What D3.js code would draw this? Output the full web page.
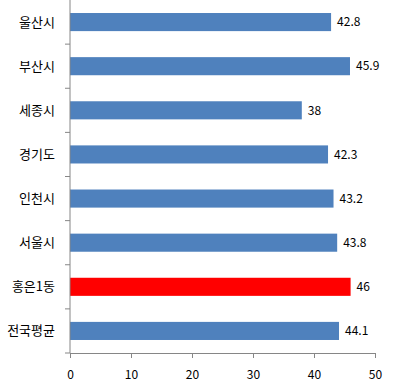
<!doctype html>
<html>
<head>
<meta charset="utf-8">
<script src="https://cdnjs.cloudflare.com/ajax/libs/d3/7.8.5/d3.min.js"></script>
<style>
  body { margin: 0; background: #fff; }
  text { font-family: "Noto Sans CJK KR", "Noto Sans", sans-serif; fill: #000; }
  .axis path, .axis line { stroke: #868686; }
</style>
</head>
<body>
<svg width="397" height="383"></svg>
<script>
var regions = ["울산시", "부산시", "세종시", "경기도", "인천시", "서울시", "홍은1동", "전국평균"];
var values = [42.8, 45.9, 38, 42.3, 43.2, 43.8, 46, 44.1];
var highlight = "홍은1동";
var xTicks = [0, 10, 20, 30, 40, 50];

var svg = d3.select("svg");
var plotLeft = 70, plotRight = 375, plotTop = 0, plotBottom = 353;

var x = d3.scaleLinear().domain([0, 50]).range([plotLeft, plotRight]);
var y = d3.scaleBand().domain(regions).range([plotTop, plotBottom]).paddingInner(0.59).paddingOuter(0.295);

svg.selectAll("rect.bar").data(regions)
  .enter().append("rect")
  .attr("class", "bar")
  .attr("x", x(0))
  .attr("y", function (d) { return y(d); })
  .attr("width", function (d, i) { return x(values[i]) - x(0); })
  .attr("height", y.bandwidth())
  .attr("fill", function (d) { return d === highlight ? "#ff0000" : "#4f81bd"; });

svg.selectAll("text.val").data(regions)
  .enter().append("text")
  .attr("class", "val")
  .attr("x", function (d, i) { return x(values[i]) + 6; })
  .attr("y", function (d) { return y(d) + y.bandwidth() / 2; })
  .attr("dy", "0.35em")
  .attr("font-size", 12)
  .text(function (d, i) { return values[i]; });

// x axis
var xAxis = svg.append("g").attr("class", "axis")
  .attr("transform", "translate(0," + plotBottom + ")")
  .call(d3.axisBottom(x).tickValues(xTicks).tickSize(5).tickSizeOuter(0).tickPadding(12));
xAxis.selectAll("text").attr("font-size", 12).attr("fill", "#000");

// y axis line with ticks at band boundaries
var yBounds = d3.range(regions.length + 1).map(function (i) { return plotTop + i * (plotBottom - plotTop) / regions.length; });
var yg = svg.append("g").attr("class", "axis");
yg.append("line").attr("x1", plotLeft).attr("x2", plotLeft).attr("y1", plotTop).attr("y2", plotBottom);
yg.selectAll("line.t").data(yBounds.slice(1)).enter().append("line")
  .attr("class", "t")
  .attr("x1", plotLeft - 5).attr("x2", plotLeft)
  .attr("y1", function (d) { return d; }).attr("y2", function (d) { return d; });

svg.selectAll("text.cat").data(regions)
  .enter().append("text")
  .attr("class", "cat")
  .attr("x", 55)
  .attr("y", function (d) { return y(d) + y.bandwidth() / 2; })
  .attr("dy", "0.35em")
  .attr("text-anchor", "end")
  .attr("font-size", 13)
  .text(function (d) { return d; });
</script>
</body>
</html>
